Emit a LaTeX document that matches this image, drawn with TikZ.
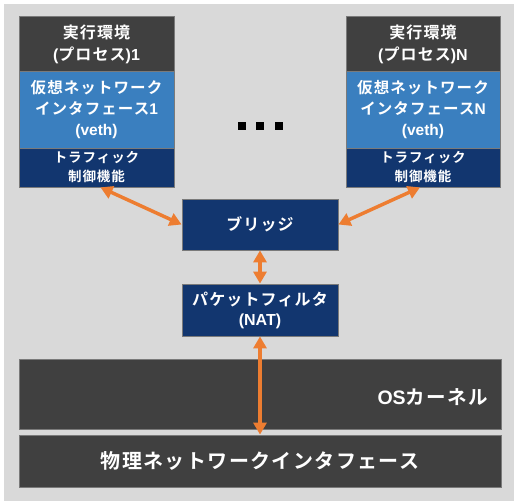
\documentclass[tikz,border=0pt]{standalone}
\usepackage{fontspec}
\setmainfont{Noto Sans CJK JP}[BoldFont={Noto Sans CJK JP Bold}, LetterSpace=7]
\newfontfamily\latf{Liberation Sans}[BoldFont={Liberation Sans Bold}]
\newcommand{\lt}[1]{{\latf\bfseries #1}}
\usetikzlibrary{arrows.meta}
\definecolor{bgc}{HTML}{D9D9D9}
\definecolor{darkc}{HTML}{404040}
\definecolor{bluec}{HTML}{3A7FBF}
\definecolor{navyc}{HTML}{12366F}
\definecolor{edgec}{HTML}{7A7A7A}
\definecolor{orangec}{HTML}{ED7D31}
\tikzset{
  box/.style={rectangle, draw=edgec, line width=0.8pt, text=white, align=center, inner sep=0pt, font=\bfseries},
  darkbox/.style={box, fill=darkc, font=\bfseries\fontsize{16}{22}\selectfont},
  bluebox/.style={box, fill=bluec, font=\bfseries\fontsize{15.5}{21}\selectfont},
  ctlbox/.style={box, fill=navyc, font=\bfseries\fontsize{13.5}{19}\selectfont},
  midbox/.style={box, fill=navyc, font=\bfseries\fontsize{16}{20}\selectfont},
  wide/.style={box, fill=darkc, minimum width=482pt, font=\bfseries\fontsize{20}{22}\selectfont},
  link/.style={draw=orangec, line width=3.5pt, {Triangle[width=13pt,length=12pt]}-{Triangle[width=13pt,length=12pt]}},
}
\begin{document}
\begin{tikzpicture}[x=1pt,y=-1pt]
\useasboundingbox (0,0) rectangle (514,501);
\fill[bgc] (4,4) rectangle (514,501);
% left stack
\node[darkbox, minimum width=155pt, minimum height=56pt] (env1) at (96.5,44) {実行環境\\\lt{(}プロセス\lt{)1}};
\node[bluebox, minimum width=155pt, minimum height=77pt] (veth1) at (96.5,109.5) {仮想ネットワーク\\インタフェース\lt{1}\\\lt{(veth)}};
\node[ctlbox, minimum width=155pt, minimum height=39pt] (ctl1) at (96.5,167.5) {トラフィック\\制御機能};
% right stack
\node[darkbox, minimum width=154pt, minimum height=56pt] (envN) at (423,44) {実行環境\\\lt{(}プロセス\lt{)N}};
\node[bluebox, minimum width=154pt, minimum height=77pt] (vethN) at (423,109.5) {仮想ネットワーク\\インタフェース\lt{N}\\\lt{(veth)}};
\node[ctlbox, minimum width=154pt, minimum height=39pt] (ctlN) at (423,167.5) {トラフィック\\制御機能};
% dots
\foreach \cx in {242,260,279} \fill[black] (\cx-4,122) rectangle (\cx+4,130);
% middle boxes
\node[midbox, minimum width=156pt, minimum height=51pt] (bridge) at (260,224.5) {ブリッジ};
\node[midbox, minimum width=156pt, minimum height=52pt] (pf) at (260,310) {パケットフィルタ\\\lt{(NAT)}};
% kernel and physical
\node[wide, minimum height=70pt] (os) at (260,394) {};
\node[anchor=east, text=white, inner sep=0pt, font=\bfseries\fontsize{19.5}{22}\selectfont] (oslabel) at (488,397) {\lt{OS}カーネル};
\node[wide, minimum height=52pt] (phys) at (260,461) {物理ネットワークインタフェース};
% arrows
\draw[link] ([xshift=4pt]ctl1.south) -- (bridge.west);
\draw[link] ([xshift=-3pt]ctlN.south) -- (bridge.east);
\draw[link] (bridge.south) -- (pf.north);
\draw[link] (pf.south) -- (phys.north);
\end{tikzpicture}
\end{document}
